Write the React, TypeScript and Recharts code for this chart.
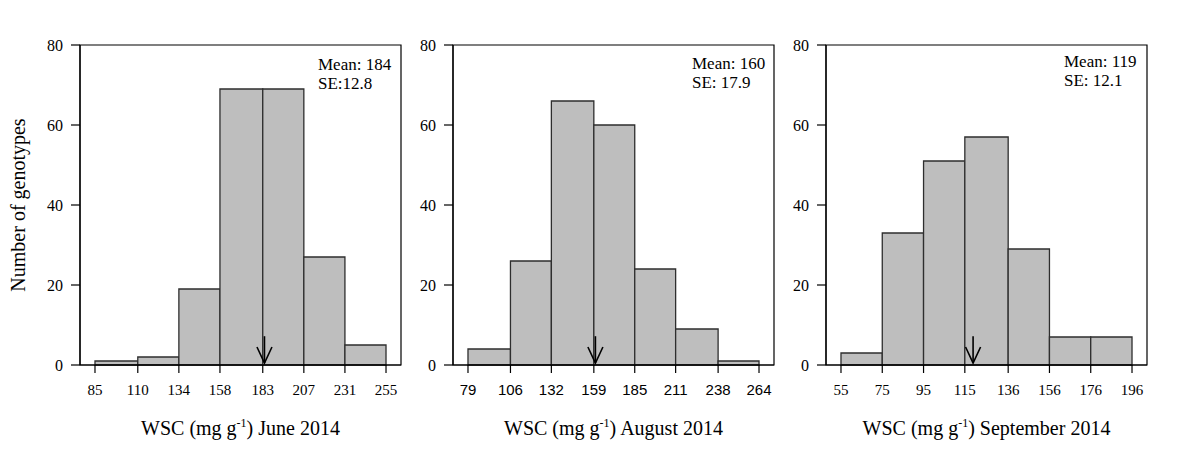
import React from 'react';
import { ComposedChart, XAxis, YAxis, ReferenceArea, ReferenceLine, Label } from 'recharts';

// ---- data ----
const juneEdges = [85, 110, 134, 158, 183, 207, 231, 255];
const juneCounts = [1, 2, 19, 69, 69, 27, 5];
const juneMean = 184;
const juneSE = '12.8';

const augustEdges = [79, 106, 132, 159, 185, 211, 238, 264];
const augustCounts = [4, 26, 66, 60, 24, 9, 1];
const augustMean = 160;
const augustSE = '17.9';

const septemberEdges = [55, 75, 95, 115, 136, 156, 176, 196];
const septemberCounts = [3, 33, 51, 57, 29, 7, 7];
const septemberMean = 119;
const septemberSE = '12.1';

const yTicks = [0, 20, 40, 60, 80];

const SERIF = '"Liberation Serif", "Times New Roman", serif';
const SANS = '"Liberation Sans", Arial, sans-serif';

const arrowShape = (p: any) => {
  const { x1, y1, x2, y2 } = p;
  return (
    <g>
      <line x1={x1} y1={y1} x2={x2} y2={y2} stroke="#000" strokeWidth={1.6} />
      <path
        d={`M${x2 - 7.5},${y2 - 16} L${x2},${y2} L${x2 + 7.5},${y2 - 16}`}
        fill="none"
        stroke="#000"
        strokeWidth={1.6}
      />
    </g>
  );
};

type PanelProps = {
  edges: number[];
  counts: number[];
  mean: number;
  se: string;
  seSep: string;
  month: string;
  left: number;
  xTickFont: string;
  statsX: number;
  statsY: number;
  showYLabel: boolean;
};

const Panel = ({ edges, counts, mean, se, seSep, month, left, xTickFont, statsX, statsY, showYLabel }: PanelProps) => {
  const lo = edges[0];
  const hi = edges[edges.length - 1];
  const pad = (hi - lo) * 0.0515;
  const xMin = lo - pad;
  const xMax = hi + pad;
  const bins = counts.map((c, i) => ({ x0: edges[i], x1: edges[i + 1], count: c }));
  return (
    <div style={{ position: 'absolute', left, top: 0, width: 410, height: 459 }}>
      <ComposedChart
        width={410}
        height={459}
        data={bins}
        margin={{ top: 45, right: 9, left: 0, bottom: 0 }}
      >
        <XAxis
          type="number"
          dataKey="x0"
          domain={[xMin, xMax]}
          allowDataOverflow
          ticks={edges}
          interval={0}
          height={94}
          tickSize={8}
          tickMargin={11}
          axisLine={{ stroke: '#000', strokeWidth: 1.2 }}
          tickLine={{ stroke: '#000', strokeWidth: 1.2 }}
          tick={{ fill: '#000', fontSize: 15, fontFamily: xTickFont }}
        >
          <Label
            content={(props: any) => {
              const vb = props.viewBox || {};
              const cx = vb.x + vb.width / 2;
              return (
                <text
                  x={cx}
                  y={vb.y + 70}
                  textAnchor="middle"
                  fontFamily={SERIF}
                  fontSize={20}
                  fill="#000"
                >
                  <tspan>WSC (mg g</tspan>
                  <tspan dy={-8} fontSize={12}>-1</tspan>
                  <tspan dy={8}>) {month} 2014</tspan>
                </text>
              );
            }}
          />
        </XAxis>
        <YAxis
          type="number"
          domain={[0, 80]}
          allowDataOverflow
          ticks={yTicks}
          interval={0}
          width={80}
          tickSize={9}
          tickMargin={8}
          axisLine={{ stroke: '#000', strokeWidth: 1.2 }}
          tickLine={{ stroke: '#000', strokeWidth: 1.2 }}
          tick={{ fill: '#000', fontSize: 16, fontFamily: SERIF }}
        >
          {showYLabel && (
            <Label
              value="Number of genotypes"
              angle={-90}
              position="center"
              dx={-22}
              style={{ fontFamily: SERIF, fontSize: 20, fill: '#000', textAnchor: 'middle' }}
            />
          )}
        </YAxis>
        {bins.map((b, i) => (
          <ReferenceArea
            key={i}
            x1={b.x0}
            x2={b.x1}
            y1={0}
            y2={b.count}
            fill="#bebebe"
            fillOpacity={1}
            stroke="#2e2e2e"
            strokeWidth={1.3}
            ifOverflow="visible"
          />
        ))}
        <ReferenceArea
          x1={xMin}
          x2={xMax}
          y1={0}
          y2={80}
          fill="none"
          fillOpacity={0}
          stroke="#000"
          strokeWidth={1.2}
          ifOverflow="visible"
        />
        <ReferenceLine
          segment={[
            { x: mean, y: 7.2 },
            { x: mean, y: 0.5 },
          ]}
          shape={arrowShape}
          ifOverflow="visible"
        />
      </ComposedChart>
      <svg
        width={410}
        height={459}
        style={{ position: 'absolute', left: 0, top: 0, pointerEvents: 'none' }}
      >
        <text x={statsX} y={statsY} fontFamily={SERIF} fontSize={17} fill="#000">
          Mean: {mean}
        </text>
        <text x={statsX} y={statsY + 19} fontFamily={SERIF} fontSize={17} fill="#000">
          SE:{seSep}{se}
        </text>
      </svg>
    </div>
  );
};

export default function App() {
  return (
    <div
      style={{
        position: 'absolute',
        left: 0,
        top: 0,
        width: 1177,
        height: 459,
        background: '#fff',
        overflow: 'hidden',
      }}
    >
      <Panel
        edges={juneEdges}
        counts={juneCounts}
        mean={juneMean}
        se={juneSE}
        seSep=""
        month="June"
        left={0}
        xTickFont={SERIF}
        statsX={318}
        statsY={70}
        showYLabel
      />
      <Panel
        edges={augustEdges}
        counts={augustCounts}
        mean={augustMean}
        se={augustSE}
        seSep=" "
        month="August"
        left={373}
        xTickFont={SANS}
        statsX={692 - 373}
        statsY={69}
        showYLabel={false}
      />
      <Panel
        edges={septemberEdges}
        counts={septemberCounts}
        mean={septemberMean}
        se={septemberSE}
        seSep=" "
        month="September"
        left={746}
        xTickFont={SERIF}
        statsX={1064 - 746}
        statsY={67}
        showYLabel={false}
      />
    </div>
  );
}
